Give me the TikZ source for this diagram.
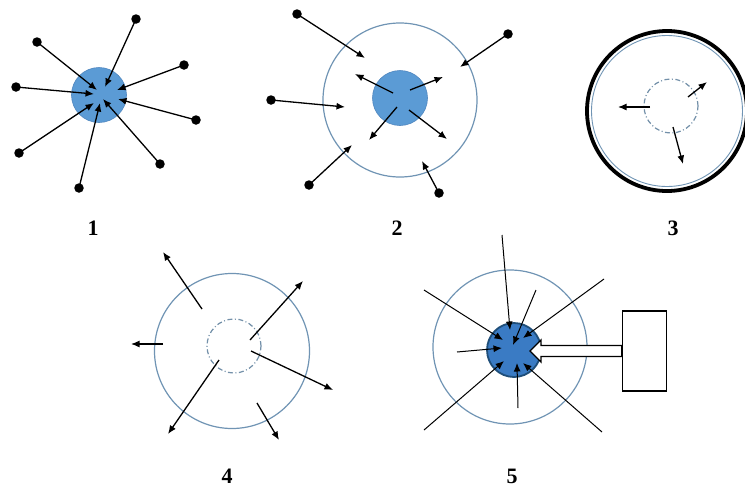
\documentclass[tikz,border=0pt]{standalone}
\usepackage{fontspec}
\setmainfont{Liberation Serif}
\usetikzlibrary{arrows.meta}
\definecolor{ringc}{HTML}{7094B4}
\definecolor{bluef}{HTML}{5B9BD5}
\definecolor{bluel}{HTML}{4F86BF}
\definecolor{darkf}{HTML}{3A7BC4}
\definecolor{darkl}{HTML}{1F4E79}
\tikzset{
  dotn/.style={circle,fill=black,inner sep=0pt,minimum size=9.5pt},
  arr/.style={line width=1.3pt,-{Latex[length=8.5pt,width=7pt]}},
  arrthin/.style={line width=1pt,-{Latex[length=8.5pt,width=7pt]}},
  ring/.style={circle,draw=ringc,line width=1.2pt,inner sep=0pt},
  core/.style={circle,fill=bluef,draw=bluel,line width=0.6pt,inner sep=0pt,minimum size=55pt},
  dashring/.style={circle,draw=ringc!80!gray,line width=1.2pt,dash pattern=on 5pt off 2.5pt on 1pt off 2.5pt,inner sep=0pt,minimum size=54pt},
  lab/.style={font=\bfseries\fontsize{22}{24}\selectfont}
}
\begin{document}
\begin{tikzpicture}[x=1pt,y=-1pt]
\clip (0,0) rectangle (745,488);
\fill[white] (0,0) rectangle (745,488);
% ---------- Diagram 1
\node[core] (c1) at (99,95) {};
\foreach \n/\dx/\dy/\tx/\ty in {a/136/19/105/87, b/37/42/97/90, c/184/65/117/90, d/16/87/94/94, e/196/120/118/99, f/19/153/94/103, g/160/164/103/99, h/79/188/100/103}{
  \node[dotn] (d1\n) at (\dx,\dy) {};
  \coordinate (t1\n) at (\tx,\ty);
  \draw[arr] (d1\n.center) -- (t1\n);
}
\node[lab] (l1) at (93,228) {1};
% ---------- Diagram 2
\node[ring,minimum size=154pt] (r2) at (400,100) {};
\node[core] (c2) at (400,98) {};
\foreach \n/\dx/\dy/\tx/\ty in {a/297/14/365/58, b/271/100/345/107, c/309/185/352/145, d/439/193/422/161, e/508/34/460/67}{
  \node[dotn] (d2\n) at (\dx,\dy) {};
  \coordinate (t2\n) at (\tx,\ty);
  \draw[arr] (d2\n.center) -- (t2\n);
}
\foreach \n/\sx/\sy/\tx/\ty in {a/393/93/355/74, b/410/90/443/77, c/397/107/369/140, d/409/110/447/139}{
  \coordinate (s2\n) at (\sx,\sy);
  \coordinate (u2\n) at (\tx,\ty);
  \draw[arr] (s2\n) -- (u2\n);
}
\node[lab] (l2) at (397,228) {2};
% ---------- Diagram 3
\node[circle,draw=black,line width=3.8pt,inner sep=0pt,minimum size=160pt] (o3) at (667,111) {};
\node[ring,minimum size=151pt,line width=0.9pt] (r3) at (667,111) {};
\node[dashring] (k3) at (671,106) {};
\foreach \n/\sx/\sy/\tx/\ty in {a/650/107/618/107, b/688/97/707/82, c/673/127/683/164}{
  \coordinate (s3\n) at (\sx,\sy);
  \coordinate (u3\n) at (\tx,\ty);
  \draw[arr] (s3\n) -- (u3\n);
}
\node[lab] (l3) at (673,228) {3};
% ---------- Diagram 4
\node[ring,minimum size=155pt] (r4) at (232,351) {};
\node[dashring] (k4) at (234,346) {};
\foreach \n/\sx/\sy/\tx/\ty in {a/202/309/163/252, b/163/344/131/344, c/250/340/303/281, d/251/351/333/390, e/219/360/168/434, f/257/403/279/440}{
  \coordinate (s4\n) at (\sx,\sy);
  \coordinate (u4\n) at (\tx,\ty);
  \draw[arr] (s4\n) -- (u4\n);
}
\node[lab] (l4) at (227,476) {4};
% ---------- Diagram 5
\node[ring,minimum size=154pt] (r5) at (510,347) {};
\node[circle,fill=darkf,draw=darkl,line width=1.8pt,inner sep=0pt,minimum size=54pt] (c5) at (514,350) {};
\foreach \n/\sx/\sy/\tx/\ty in {a/502/235/510/330, b/536/290/513/345, c/604/279/523/338, d/424/290/503/340, e/457/352/502/348, f/424/430/504/361, g/518/408/517/363, h/602/432/523/363}{
  \coordinate (s5\n) at (\sx,\sy);
  \coordinate (u5\n) at (\tx,\ty);
  \draw[arrthin] (s5\n) -- (u5\n);
}
\node[draw=black,line width=1.6pt,minimum width=44pt,minimum height=80pt,inner sep=0pt] (b5) at (644.5,351) {};
\coordinate (h5) at (530,351);
\draw[line width=1.3pt,fill=white,line join=miter]
  (h5) -- (541,340) -- (541,345.5) -- (b5.west |- 0,345.5) -- (b5.west |- 0,356.5) -- (541,356.5) -- (541,362) -- cycle;
\node[lab] (l5) at (512,476) {5};
\end{tikzpicture}
\end{document}
